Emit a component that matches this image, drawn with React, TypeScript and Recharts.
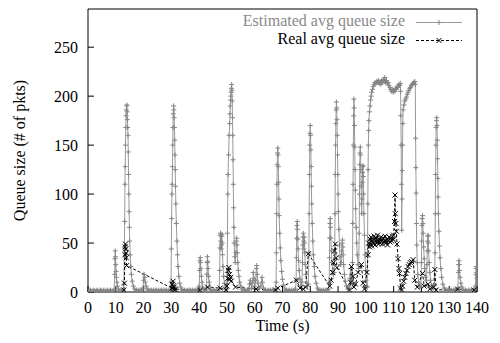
import { LineChart, Line, XAxis, YAxis } from 'recharts';

// axis ticks
const xTicks = [0, 10, 20, 30, 40, 50, 60, 70, 80, 90, 100, 110, 120, 130, 140];
const yTicks = [0, 50, 100, 150, 200, 250];

// [time (s), estimated avg queue size (pkts)]
const estimated: [number, number][] = [
  [0, 1], [0.3, 0], [0.6, 1], [0.9, 2], [1.2, 0], [1.5, 1], [1.8, 0], [2.1, 2], [2.4, 1], [2.7, 0], [3.0, 1], [3.3, 2],
  [3.6, 0], [3.9, 1], [4.2, 0], [4.5, 2], [4.8, 1], [5.1, 0], [5.4, 1], [5.7, 2], [6.0, 0], [6.3, 1], [6.6, 0],
  [6.9, 2], [7.2, 1], [7.5, 0], [7.8, 1], [8.1, 2], [8.4, 0], [8.7, 1], [9.0, 1], [9.4, 2],
  [9.6, 18], [9.7, 34], [9.8, 42], [9.9, 36], [10.0, 28], [10.1, 21], [10.2, 15], [10.4, 10], [10.6, 6], [10.9, 3],
  [11.3, 1], [11.6, 0], [11.9, 2], [12.2, 1], [12.5, 0], [12.7, 2],
  [12.9, 8], [13.1, 45], [13.2, 72], [13.3, 110], [13.4, 128], [13.5, 150], [13.6, 168], [13.7, 180], [13.8, 186],
  [13.9, 190], [14.0, 191], [14.1, 184], [14.2, 176], [14.3, 168], [14.4, 160], [14.5, 143], [14.6, 120], [14.7, 100],
  [14.8, 82], [14.9, 66], [15.0, 52], [15.2, 38], [15.4, 26], [15.6, 18], [15.9, 11], [16.3, 6], [16.8, 3], [17.2, 1],
  [17.5, 2], [17.8, 0], [18.1, 1], [18.4, 2], [18.7, 0], [19.0, 1], [19.3, 2], [19.6, 1],
  [19.8, 4], [20.0, 12], [20.2, 18], [20.4, 15], [20.6, 10], [20.9, 6], [21.3, 3], [21.6, 1], [21.9, 2], [22.2, 0],
  [22.5, 1], [22.8, 2], [23.1, 0], [23.4, 1], [23.7, 2], [24.0, 0], [24.3, 1], [24.6, 2], [24.9, 0], [25.2, 1],
  [25.5, 2], [25.8, 0], [26.1, 1], [26.4, 2], [26.7, 0], [27.0, 1], [27.3, 2], [27.6, 0], [27.9, 1], [28.2, 2],
  [28.5, 0], [28.8, 1], [29.1, 2], [29.4, 0], [29.7, 1],
  [29.9, 10], [30.0, 44], [30.1, 75], [30.2, 100], [30.3, 110], [30.4, 128], [30.5, 150], [30.6, 168], [30.7, 182],
  [30.8, 190], [30.9, 186], [31.0, 178], [31.1, 168], [31.2, 155], [31.3, 140], [31.4, 125], [31.5, 108], [31.6, 90],
  [31.8, 70], [32.0, 52], [32.2, 38], [32.4, 26], [32.7, 16], [33.0, 9], [33.4, 5], [33.8, 2], [34.1, 1], [34.4, 0],
  [34.7, 2], [35.0, 1], [35.3, 0], [35.6, 1], [35.9, 2], [36.2, 0], [36.5, 1], [36.8, 2], [37.1, 0], [37.4, 1],
  [37.7, 2], [38.0, 0], [38.3, 1], [38.6, 2], [38.9, 0], [39.2, 1], [39.5, 2], [39.8, 1],
  [40.0, 6], [40.2, 22], [40.3, 32], [40.4, 35], [40.5, 30], [40.6, 24], [40.8, 16], [41.0, 10], [41.3, 5], [41.7, 2],
  [42.0, 1], [42.3, 2], [42.6, 3],
  [42.8, 18], [42.9, 30], [43.0, 36], [43.1, 31], [43.2, 24], [43.4, 16], [43.6, 10], [43.9, 5], [44.3, 2], [44.6, 1],
  [44.9, 0], [45.2, 2], [45.5, 1], [45.8, 0], [46.1, 1], [46.4, 2], [46.7, 0], [47.0, 1], [47.2, 3],
  [47.4, 22], [47.5, 45], [47.6, 58], [47.7, 60], [47.8, 52], [47.9, 44], [48.0, 48], [48.1, 57], [48.2, 59], [48.3, 50],
  [48.4, 38], [48.6, 26], [48.8, 16], [49.1, 9], [49.4, 5], [49.8, 3],
  [50.1, 20], [50.2, 60], [50.3, 100], [50.4, 120], [50.6, 140], [50.8, 160], [51.0, 172], [51.1, 182], [51.2, 190],
  [51.3, 196], [51.4, 200], [51.5, 204], [51.6, 208], [51.7, 212], [51.8, 206], [51.9, 195], [52.0, 178], [52.1, 160],
  [52.2, 135], [52.3, 110], [52.4, 86], [52.5, 66], [52.6, 50], [52.8, 36],
  [53.0, 30], [53.2, 40], [53.4, 52], [53.5, 55], [53.6, 48], [53.7, 40], [53.9, 30], [54.1, 22], [54.3, 16], [54.6, 10],
  [55.0, 6], [55.4, 3], [55.8, 1], [56.1, 0], [56.4, 2], [56.7, 1], [57.0, 0], [57.3, 1], [57.6, 2], [57.9, 3],
  [58.2, 8], [58.4, 12], [58.6, 9], [58.9, 4], [59.3, 10], [59.5, 20], [59.7, 14], [60.0, 6], [60.4, 12], [60.6, 24],
  [60.7, 27], [60.9, 18], [61.2, 9], [61.6, 4], [62.2, 6], [62.6, 15], [62.8, 10], [63.2, 4], [63.6, 1], [63.9, 2],
  [64.2, 0], [64.5, 1], [64.8, 2], [65.1, 0], [65.4, 1], [65.7, 2], [66.0, 0], [66.3, 1], [66.6, 2], [66.9, 0],
  [67.2, 1], [67.5, 2],
  [67.7, 10], [67.8, 40], [67.9, 80], [68.0, 110], [68.1, 130], [68.2, 142], [68.3, 147], [68.4, 140], [68.5, 128],
  [68.6, 112], [68.7, 95], [68.8, 78], [69.0, 60], [69.2, 45], [69.4, 32], [69.7, 21], [70.0, 13], [70.4, 7], [70.9, 3],
  [71.2, 1], [71.5, 2], [71.8, 0], [72.1, 1], [72.4, 2], [72.7, 0], [73.0, 1], [73.3, 2], [73.6, 0], [73.9, 1],
  [74.2, 2], [74.5, 1], [74.7, 3],
  [74.9, 12], [75.0, 35], [75.1, 55], [75.2, 68], [75.3, 72], [75.4, 64], [75.5, 54], [75.6, 44], [75.8, 32], [76.0, 22],
  [76.3, 13], [76.7, 6], [77.0, 10],
  [77.2, 30], [77.3, 48], [77.4, 56], [77.5, 60], [77.6, 52], [77.7, 44], [77.8, 56], [77.9, 50], [78.0, 40], [78.2, 28],
  [78.4, 18], [78.7, 10], [79.0, 6], [79.3, 8],
  [79.5, 40], [79.6, 80], [79.7, 120], [79.8, 150], [79.9, 162], [80.0, 170], [80.1, 160], [80.2, 145], [80.3, 128],
  [80.4, 108], [80.5, 90], [80.7, 70], [80.9, 52], [81.1, 38], [81.4, 26], [81.7, 16], [82.1, 9], [82.6, 4], [83.0, 2],
  [83.3, 0], [83.6, 1], [83.9, 2], [84.2, 0], [84.5, 1], [84.8, 2], [85.1, 0], [85.4, 1], [85.7, 2], [86.0, 0],
  [86.3, 1], [86.6, 3],
  [86.8, 10], [86.9, 35], [87.0, 55], [87.1, 70], [87.2, 75], [87.3, 66], [87.4, 55], [87.6, 42], [87.8, 30], [88.0, 22],
  [88.3, 18], [88.6, 20],
  [88.8, 40], [88.9, 80], [89.0, 120], [89.1, 150], [89.2, 172], [89.3, 186], [89.4, 194], [89.5, 188], [89.6, 176],
  [89.7, 160], [89.8, 140], [89.9, 120], [90.0, 100], [90.1, 82], [90.3, 64], [90.5, 48], [90.7, 36], [90.9, 28],
  [91.1, 30], [91.3, 42], [91.5, 50], [91.6, 53], [91.7, 46], [91.8, 38], [92.0, 28], [92.3, 18], [92.6, 11], [93.0, 6],
  [93.5, 3], [94.0, 5], [94.3, 14], [94.5, 24], [94.7, 18], [94.9, 12], [95.1, 10],
  [95.2, 30], [95.3, 70], [95.4, 110], [95.5, 150], [95.6, 180], [95.7, 197], [95.8, 188], [95.9, 170], [96.0, 148],
  [96.1, 125], [96.2, 104], [96.3, 85], [96.5, 66], [96.7, 50], [96.9, 38], [97.2, 28], [97.4, 24],
  [97.6, 60], [97.7, 100], [97.8, 130], [97.9, 142], [98.0, 148], [98.1, 140], [98.2, 125], [98.3, 108], [98.4, 90],
  [98.5, 80], [98.6, 95], [98.7, 112], [98.8, 122], [98.9, 128], [99.0, 129], [99.1, 118], [99.2, 100], [99.3, 80],
  [99.5, 58], [99.7, 38], [99.9, 22], [100.1, 12], [100.3, 6], [100.5, 5],
  [100.6, 40], [100.7, 90], [100.8, 125], [100.9, 150], [101.0, 165], [101.1, 175], [101.3, 184], [101.5, 190],
  [101.7, 196], [101.9, 200], [102.1, 204], [102.4, 207], [102.7, 210], [103.0, 212], [103.3, 214], [103.6, 213],
  [103.9, 215], [104.2, 214], [104.5, 216], [104.8, 213], [105.1, 215], [105.4, 212], [105.7, 216], [106.0, 214],
  [106.3, 217], [106.6, 215], [106.8, 219], [107.1, 214], [107.4, 216], [107.7, 213], [108.0, 214], [108.3, 211],
  [108.6, 209], [108.9, 207], [109.2, 205], [109.5, 207], [109.8, 204], [110.1, 206], [110.4, 205], [110.7, 208],
  [111.0, 207], [111.3, 210], [111.6, 209], [111.9, 212], [112.2, 211], [112.4, 213], [112.5, 205], [112.6, 180],
  [112.7, 150], [112.8, 110], [112.9, 63],
  [113.0, 95], [113.1, 124], [113.2, 150], [113.3, 172], [113.4, 186], [113.7, 191], [114.0, 195], [114.3, 197],
  [114.6, 199], [114.9, 202], [115.2, 204], [115.5, 206], [115.8, 208], [116.1, 209], [116.4, 211], [116.7, 212],
  [117.0, 213], [117.3, 214], [117.6, 215], [117.8, 212], [117.9, 157], [118.0, 127], [118.1, 101], [118.2, 70],
  [118.3, 48], [118.5, 30], [118.7, 18], [119.0, 10], [119.4, 5], [119.8, 6],
  [120.0, 30], [120.1, 52], [120.2, 68], [120.3, 75], [120.4, 78], [120.5, 70], [120.6, 60], [120.8, 46], [121.0, 34],
  [121.2, 24], [121.5, 15], [121.8, 12],
  [122.0, 28], [122.1, 42], [122.2, 52], [122.3, 57], [122.4, 58], [122.5, 50], [122.6, 42], [122.8, 30], [123.0, 20],
  [123.3, 12], [123.7, 6], [124.2, 3], [124.7, 8],
  [124.9, 40], [125.0, 80], [125.1, 120], [125.2, 150], [125.3, 168], [125.4, 175], [125.5, 178], [125.6, 170],
  [125.7, 155], [125.8, 136], [125.9, 116], [126.0, 97], [126.1, 80], [126.3, 62], [126.5, 47], [126.7, 35], [127.0, 24],
  [127.3, 15], [127.7, 8], [128.2, 4], [128.6, 2], [128.9, 1], [129.2, 0], [129.5, 2], [129.8, 1], [130.1, 0],
  [130.4, 1], [130.7, 2], [131.0, 0], [131.3, 1], [131.6, 2], [131.9, 0], [132.2, 1], [132.5, 2], [132.8, 1], [133.1, 4],
  [133.3, 20], [133.4, 28], [133.5, 32], [133.6, 28], [133.7, 22], [133.9, 15], [134.2, 9], [134.6, 5], [135.0, 2],
  [135.3, 1], [135.6, 0], [135.9, 2], [136.2, 1], [136.5, 0], [136.8, 1], [137.1, 2], [137.4, 0], [137.7, 1],
  [138.0, 2], [138.3, 0], [138.6, 1], [138.9, 2], [139.2, 3], [139.4, 6],
  [139.6, 18], [139.7, 24], [139.8, 26], [139.9, 20], [140.0, 14],
];

// [time (s), real avg queue size (pkts)]
const real: [number, number][] = [
  [12.9, 2], [13.1, 9], [13.3, 38], [13.4, 46], [13.5, 49], [13.6, 44], [13.7, 40], [13.8, 35], [13.9, 27],
  [30.2, 4], [30.4, 8], [30.6, 11], [30.7, 6], [30.8, 3], [31.0, 5], [31.2, 2], [31.5, 3],
  [40.2, 2], [43.0, 5], [47.6, 4], [49.6, 2],
  [50.0, 6], [50.3, 14], [50.5, 22], [50.7, 25], [50.9, 18], [51.1, 13], [51.3, 15], [51.5, 11], [53.1, 5],
  [60.5, 3], [67.5, 2], [68.3, 4], [75.0, 12], [76.3, 4], [77.5, 3], [78.3, 5], [79.3, 39],
  [87.0, 6], [87.5, 12], [88.0, 20], [88.4, 30], [88.7, 42], [89.0, 49], [89.3, 35], [89.6, 25],
  [94.1, 2], [94.5, 10], [94.8, 26], [95.4, 16], [95.7, 5], [96.3, 8], [97.2, 20], [98.4, 28], [99.0, 9], [99.5, 3],
  [100.4, 20], [100.8, 38], [101.0, 50], [101.3, 46], [101.5, 54], [101.7, 49], [101.9, 56], [102.1, 47], [102.4, 53],
  [102.7, 50], [103.0, 57], [103.3, 48], [103.6, 55], [103.9, 51], [104.2, 58], [104.5, 49], [104.8, 54], [105.1, 50],
  [105.4, 56], [105.7, 52], [106.0, 49], [106.3, 55], [106.6, 51], [106.9, 57], [107.2, 50], [107.5, 54], [107.8, 48],
  [108.1, 53], [108.4, 56], [108.7, 51], [109.0, 55], [109.3, 52], [109.6, 57], [109.9, 54],
  [110.0, 58], [110.3, 72], [110.5, 99], [110.6, 80], [110.8, 70], [111.0, 62], [111.2, 49], [111.6, 34], [111.9, 24],
  [112.1, 19], [112.5, 4], [112.8, 2], [113.2, 6], [113.6, 11], [114.0, 15], [114.4, 19], [114.8, 22], [115.2, 26],
  [115.6, 28], [116.0, 30], [116.5, 31], [117.0, 33], [117.6, 12], [118.5, 5], [120.4, 19], [121.0, 6], [122.4, 8],
  [123.0, 3], [124.4, 5], [124.8, 23], [125.3, 2], [133.0, 3], [139.0, 2],
];

const estData = estimated.map(([t, q]) => ({ t, q }));
const realData = real.map(([t, q]) => ({ t, q }));

const FONT = '"Liberation Serif", "DejaVu Serif", "Times New Roman", serif';
const GRAY = '#9a9a9a';
const GRAY_MARK = '#858585';

const PlusDot = (props: any) => {
  const { cx, cy, index } = props;
  if (cx == null || cy == null) return <g key={`p${index}`} />;
  return (
    <path key={`p${index}`} d={`M${cx - 2.5},${cy}h5M${cx},${cy - 2.5}v5`} stroke={GRAY_MARK} strokeWidth={1} fill="none" />
  );
};

const CrossDot = (props: any) => {
  const { cx, cy, index } = props;
  if (cx == null || cy == null) return <g key={`x${index}`} />;
  return (
    <path key={`x${index}`} d={`M${cx - 2.5},${cy - 2.5}l5,5M${cx - 2.5},${cy + 2.5}l5,-5`} stroke="#000" strokeWidth={1} fill="none" />
  );
};

const YTitle = (props: any) => {
  const vb = props.viewBox || { x: 0, y: 9, width: 88, height: 283 };
  const cx = vb.x + 19;
  const cy = vb.y + vb.height / 2;
  return (
    <text x={cx} y={cy} transform={`rotate(-90, ${cx}, ${cy})`} textAnchor="middle" dominantBaseline="central"
      fontSize={16} fill="#000" fontFamily={FONT}>
      Queue size (# of pkts)
    </text>
  );
};

// gnuplot style key in the top right corner
const Key = () => (
  <svg width={500} height={60} style={{ position: 'absolute', left: 0, top: 0, pointerEvents: 'none' }}>
    <text x={405} y={26} textAnchor="end" fontSize={16} fill="#8a8a8a" fontFamily={FONT}>Estimated avg queue size</text>
    <line x1={416} x2={462} y1={22.5} y2={22.5} stroke={GRAY} strokeWidth={1} />
    <path d="M436.5,22.5h5M439,20v5" stroke={GRAY_MARK} strokeWidth={1} />
    <text x={405} y={44} textAnchor="end" fontSize={16} fill="#000" fontFamily={FONT}>Real avg queue size</text>
    <line x1={416} x2={462} y1={40.5} y2={40.5} stroke="#000" strokeWidth={1} strokeDasharray="3 2" />
    <path d="M436.5,38l5,5M436.5,43l5,-5" stroke="#000" strokeWidth={1} />
  </svg>
);

const axisText = { fill: '#000', fontSize: 16, fontFamily: FONT };

export default function App() {
  return (
    <div style={{ position: 'absolute', left: 0, top: 0, width: 500, height: 343, background: '#fff' }}>
      <LineChart width={500} height={343} margin={{ top: 8, right: 22, bottom: 0, left: 0 }} style={{ fontFamily: FONT }}>
        <XAxis xAxisId="b" dataKey="t" type="number" domain={[0, 140]} ticks={xTicks} interval={0} allowDataOverflow
          height={51} axisLine={{ stroke: '#000' }} tickLine={{ stroke: '#000' }} tickSize={-6} tickMargin={16}
          tick={axisText} label={{ value: 'Time (s)', position: 'insideBottom', offset: 12, ...axisText }} />
        <XAxis xAxisId="t" orientation="top" type="number" domain={[0, 140]} ticks={xTicks} interval={0} allowDataOverflow
          height={1} axisLine={{ stroke: '#000' }} tickLine={{ stroke: '#000' }} tickSize={-6} tick={false} />
        <YAxis yAxisId="l" type="number" domain={[0, 289]} ticks={yTicks} interval={0} allowDataOverflow
          width={88} axisLine={{ stroke: '#000' }} tickLine={{ stroke: '#000' }} tickSize={-6} tickMargin={16}
          tick={axisText} label={{ content: YTitle }} />
        <YAxis yAxisId="r" orientation="right" type="number" domain={[0, 289]} ticks={yTicks} interval={0} allowDataOverflow
          width={1} axisLine={{ stroke: '#000' }} tickLine={{ stroke: '#000' }} tickSize={-6} tick={false} />
        <Line xAxisId="b" yAxisId="l" data={estData} dataKey="q" type="linear" stroke={GRAY} strokeWidth={1}
          dot={PlusDot} activeDot={false} isAnimationActive={false} />
        <Line xAxisId="b" yAxisId="l" data={realData} dataKey="q" type="linear" stroke="#000" strokeWidth={1}
          strokeDasharray="3 2" dot={CrossDot} activeDot={false} isAnimationActive={false} />
      </LineChart>
      <Key />
    </div>
  );
}
